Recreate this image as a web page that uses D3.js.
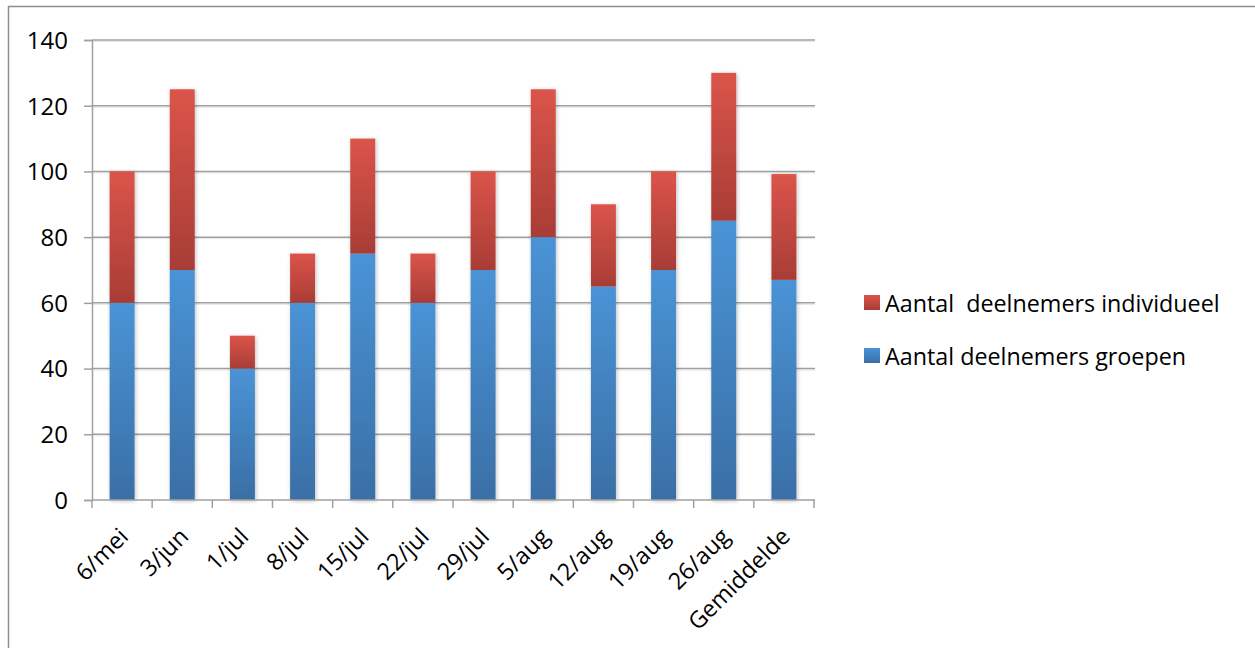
<!DOCTYPE html>
<html>
<head>
<meta charset="utf-8">
<script src="https://cdn.jsdelivr.net/npm/d3@7"></script>
<style>
  html, body { margin: 0; padding: 0; background: #fff; }
  svg { display: block; }
  text { font-family: "Open Sans", "Noto Sans", sans-serif; fill: #000; white-space: pre; }
</style>
</head>
<body>
<svg id="chart" width="1255" height="648"></svg>
<script>
const categories = ["6/mei", "3/jun", "1/jul", "8/jul", "15/jul", "22/jul", "29/jul", "5/aug", "12/aug", "19/aug", "26/aug", "Gemiddelde"];
const groepen = [60, 70, 40, 60, 75, 60, 70, 80, 65, 70, 85, 67];
const individueel = [40, 55, 10, 15, 35, 15, 30, 45, 25, 30, 45, 32.2];
const yTicks = [0, 20, 40, 60, 80, 100, 120, 140];
const seriesNames = ["Aantal  deelnemers individueel", "Aantal deelnemers groepen"];

const svg = d3.select("#chart");
const W = 1255, H = 648;
const plot = { left: 92, right: 814, top: 40, bottom: 500 };
const FS = "23.3px";

// outer frame
svg.append("rect")
  .attr("x", 8.5).attr("y", 6.5)
  .attr("width", W + 20).attr("height", H + 20)
  .attr("fill", "none").attr("stroke", "#8e8e8e").attr("stroke-width", 1.5);

const defs = svg.append("defs");
const gBlue = defs.append("linearGradient").attr("id", "gBlue").attr("x1", 0).attr("y1", 0).attr("x2", 0).attr("y2", 1);
gBlue.append("stop").attr("offset", "0%").attr("stop-color", "#4a93d6");
gBlue.append("stop").attr("offset", "100%").attr("stop-color", "#3a6fa6");
const gRed = defs.append("linearGradient").attr("id", "gRed").attr("x1", 0).attr("y1", 0).attr("x2", 0).attr("y2", 1);
gRed.append("stop").attr("offset", "0%").attr("stop-color", "#db544a");
gRed.append("stop").attr("offset", "100%").attr("stop-color", "#a83d36");
const shadow = defs.append("filter").attr("id", "shadow").attr("x", "-30%").attr("y", "-10%").attr("width", "160%").attr("height", "120%");
shadow.append("feGaussianBlur").attr("in", "SourceAlpha").attr("stdDeviation", 2).attr("result", "blur");
shadow.append("feOffset").attr("in", "blur").attr("dx", 1).attr("dy", 1).attr("result", "off");
shadow.append("feComponentTransfer").attr("in", "off").attr("result", "sh")
  .append("feFuncA").attr("type", "linear").attr("slope", 0.25);
const merge = shadow.append("feMerge");
merge.append("feMergeNode").attr("in", "sh");
merge.append("feMergeNode").attr("in", "SourceGraphic");

const x = d3.scaleBand().domain(categories).range([plot.left, plot.right]).paddingInner(0.585).paddingOuter(0.2925);
const step = x.step();
const y = d3.scaleLinear().domain([0, 140]).range([plot.bottom, plot.top]);

// gridlines
const grid = svg.append("g");
grid.selectAll("line.gs").data(yTicks.slice(1)).join("line")
  .attr("x1", plot.left).attr("x2", plot.right + 1)
  .attr("y1", d => y(d) + 1.5).attr("y2", d => y(d) + 1.5)
  .attr("stroke", "#e6e6e6").attr("stroke-width", 1);
grid.selectAll("line.g").data(yTicks.slice(1)).join("line")
  .attr("x1", plot.left).attr("x2", plot.right + 1)
  .attr("y1", d => y(d)).attr("y2", d => y(d))
  .attr("stroke", "#a0a0a0").attr("stroke-width", 1.5);

// stacked bars
const stackData = categories.map((c, i) => ({ cat: c, groepen: groepen[i], individueel: individueel[i] }));
const stack = d3.stack().keys(["groepen", "individueel"])(stackData);
const fills = { groepen: "url(#gBlue)", individueel: "url(#gRed)" };
const barsG = svg.append("g");
stackData.forEach((d, i) => {
  const g = barsG.append("g").attr("filter", "url(#shadow)");
  stack.forEach(s => {
    const seg = s[i];
    g.append("rect")
      .attr("x", x(d.cat)).attr("width", x.bandwidth())
      .attr("y", y(seg[1])).attr("height", y(seg[0]) - y(seg[1]))
      .attr("fill", fills[s.key]);
  });
});

// y axis
const yAxis = d3.axisLeft(y).tickValues(yTicks).tickSize(8).tickPadding(10).tickFormat(d3.format("d"));
const ya = svg.append("g").attr("transform", `translate(${plot.left},0)`).call(yAxis);
ya.select(".domain").attr("stroke", "#a0a0a0").attr("stroke-width", 1.5);
ya.selectAll(".tick line").attr("stroke", "#a0a0a0").attr("stroke-width", 1.5);
ya.selectAll(".tick text").style("font-size", "24px").attr("dy", "0.35em").attr("dx", "-6");

// x axis
const xa = svg.append("g").attr("transform", `translate(0,${plot.bottom})`);
xa.append("line").attr("x1", plot.left).attr("x2", plot.right + 1).attr("y1", 0).attr("y2", 0)
  .attr("stroke", "#a0a0a0").attr("stroke-width", 1.5);
const boundaries = d3.range(categories.length + 1).map(i => plot.left + i * step);
xa.selectAll("line.t").data(boundaries).join("line")
  .attr("x1", d => d).attr("x2", d => d).attr("y1", 0).attr("y2", 8)
  .attr("stroke", "#a0a0a0").attr("stroke-width", 1.5);
xa.selectAll("text").data(categories).join("text")
  .attr("transform", d => `translate(${x(d) + x.bandwidth() / 2 + 7.5},${38}) rotate(-45)`)
  .attr("text-anchor", "end")
  .style("font-size", FS)
  .text(d => d);

// legend
const legendColors = ["url(#gRed)", "url(#gBlue)"];
const lg = svg.append("g").attr("transform", "translate(864,295)");
seriesNames.forEach((n, i) => {
  const row = lg.append("g").attr("transform", `translate(0,${i * 53})`);
  row.append("rect").attr("width", 16).attr("height", 15).attr("fill", legendColors[i]);
  row.append("text").attr("x", 21).attr("y", 17).style("font-size", FS).text(n);
});
</script>
</body>
</html>
